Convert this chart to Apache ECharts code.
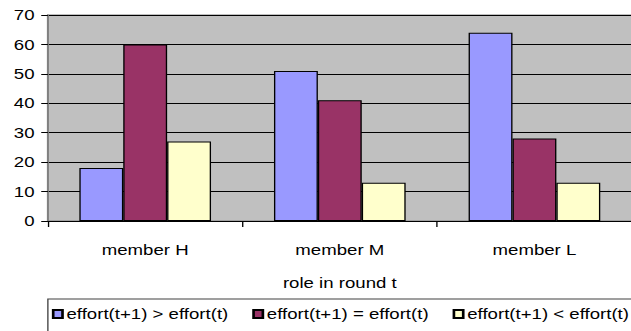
<!DOCTYPE html>
<html>
<head>
<meta charset="utf-8">
<script src="https://cdn.jsdelivr.net/npm/echarts@6/dist/echarts.min.js"></script>
<style>
  html, body { margin: 0; padding: 0; background: #ffffff; overflow: hidden; }
  #wrap { width: 631px; height: 331px; overflow: hidden; }
  /* chart is laid out narrow and widened, giving the broad Excel-style lettering */
  #chart { width: 475px; height: 331px; transform: scaleX(1.33); transform-origin: 0 0; }
</style>
</head>
<body>
<div id="wrap"><div id="chart"></div></div>
<script>
const categories = ['member H', 'member M', 'member L'];
const seriesNames = ['effort(t+1) > effort(t)', 'effort(t+1) = effort(t)', 'effort(t+1) < effort(t)'];
const increased = [18, 51, 64];
const unchanged = [60, 41, 28];
const decreased = [27, 13, 13];
const yTicks = { min: 0, max: 70, interval: 10 };
const colors = ['#9999FF', '#993366', '#FFFFCC'];

const font = "'Liberation Sans', Arial, sans-serif";
const chart = echarts.init(document.getElementById('chart'), null, { renderer: 'svg' });

function barSeries(name, data, color) {
  return {
    name: name,
    type: 'bar',
    data: data,
    barWidth: 33,
    barGap: '0%',
    itemStyle: { color: color, borderColor: '#000000', borderWidth: 1 },
    emphasis: { disabled: true }
  };
}

chart.setOption({
  animation: false,
  grid: {
    left: 36, top: 15, width: 447, height: 206,
    show: true, backgroundColor: '#C0C0C0', borderColor: '#808080', borderWidth: 1
  },
  xAxis: {
    type: 'category',
    data: categories,
    name: 'role in round t',
    nameLocation: 'middle',
    nameGap: 55,
    nameTextStyle: { fontFamily: font, fontSize: 14, color: '#000000' },
    axisLine: { lineStyle: { color: '#000000', width: 1 } },
    axisTick: { show: true, length: 6, lineStyle: { color: '#000000' } },
    axisLabel: { fontFamily: font, fontSize: 14, color: '#000000', margin: 22 }
  },
  yAxis: {
    type: 'value',
    min: yTicks.min, max: yTicks.max, interval: yTicks.interval,
    axisLine: { show: true, lineStyle: { color: '#808080', width: 1.5 } },
    axisTick: { show: true, length: 5, lineStyle: { color: '#000000' } },
    axisLabel: { fontFamily: font, fontSize: 14, color: '#000000', margin: 10 },
    splitLine: { show: true, lineStyle: { color: '#000000', width: 1 } }
  },
  legend: {
    left: 36, top: 299,
    width: 700,
    padding: [8, 60, 30, 3],
    borderColor: '#404040', borderWidth: 1,
    itemWidth: 7, itemHeight: 8, itemGap: 18,
    icon: 'rect',
    textStyle: { fontFamily: font, fontSize: 14, color: '#000000', padding: [0, 0, 0, -2] },
    data: seriesNames
  },
  series: [
    barSeries(seriesNames[0], increased, colors[0]),
    barSeries(seriesNames[1], unchanged, colors[1]),
    barSeries(seriesNames[2], decreased, colors[2])
  ]
});
</script>
</body>
</html>
